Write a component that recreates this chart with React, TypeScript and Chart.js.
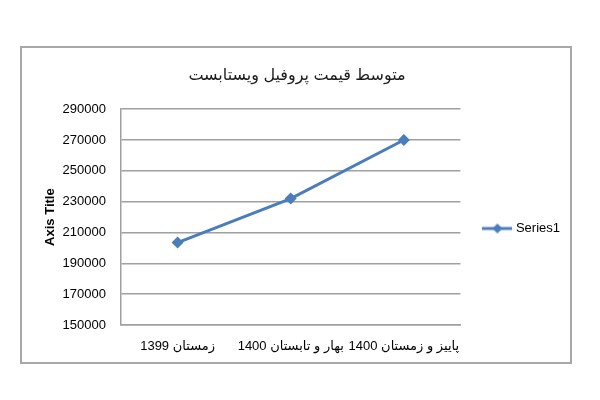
import React, { useEffect, useRef } from 'react';
import { Chart, registerables } from 'chart.js';

Chart.register(...registerables);

const CHART_TITLE = 'متوسط قیمت پروفیل ویستابست';
const CATEGORIES = ['زمستان 1399', 'بهار و تابستان 1400', 'پاییز و زمستان 1400'];
const SERIES1_VALUES = [203500, 232000, 270000];
const SERIES1_NAME = 'Series1';
const Y_AXIS_TITLE = 'Axis Title';
const Y_MIN = 150000;
const Y_MAX = 290000;
const Y_STEP = 20000;

const BLUE = '#4a7ebb';
const GRID = '#a0a0a0';
const FONT = '"Liberation Sans", "DejaVu Sans", sans-serif';

function makeLegendIcon(): HTMLCanvasElement {
  const c = document.createElement('canvas');
  c.width = 30;
  c.height = 12;
  const ctx = c.getContext('2d');
  if (ctx) {
    ctx.strokeStyle = BLUE;
    ctx.lineWidth = 3;
    ctx.beginPath();
    ctx.moveTo(0, 6);
    ctx.lineTo(30, 6);
    ctx.stroke();
    ctx.fillStyle = BLUE;
    ctx.beginPath();
    ctx.moveTo(10, 6);
    ctx.lineTo(15, 1);
    ctx.lineTo(20, 6);
    ctx.lineTo(15, 11);
    ctx.closePath();
    ctx.fill();
  }
  return c;
}

export default function App() {
  const canvasRef = useRef<HTMLCanvasElement | null>(null);

  useEffect(() => {
    const canvas = canvasRef.current;
    if (!canvas) return;
    const icon = makeLegendIcon();
    const chart = new Chart(canvas, {
      type: 'line',
      data: {
        labels: CATEGORIES,
        datasets: [
          {
            label: SERIES1_NAME,
            data: SERIES1_VALUES,
            borderColor: BLUE,
            backgroundColor: BLUE,
            borderWidth: 3,
            pointStyle: 'rectRot',
            pointRadius: 6,
            pointBackgroundColor: BLUE,
            pointBorderColor: BLUE,
            pointBorderWidth: 0,
            tension: 0,
          },
        ],
      },
      options: {
        animation: false,
        responsive: false,
        maintainAspectRatio: false,
        layout: { padding: { top: 66, left: 24, right: 30, bottom: 9 } },
        plugins: {
          title: {
            display: true,
            text: CHART_TITLE,
            color: '#1a1a1a',
            font: { family: FONT, size: 16, weight: 'normal' },
            padding: { top: 0, bottom: 24 },
          },
          legend: {
            display: true,
            position: 'right',
            labels: {
              usePointStyle: true,
              pointStyle: icon as any,
              pointStyleWidth: 24,
              padding: 25,
              color: '#000',
              font: { family: FONT, size: 13 },
            },
          },
          tooltip: { enabled: false },
        },
        scales: {
          x: {
            offset: true,
            grid: { display: false, drawTicks: false },
            border: { display: true, color: GRID, width: 1.5 },
            ticks: {
              color: '#000',
              font: { family: FONT, size: 13 },
              padding: 14,
              maxRotation: 0,
              autoSkip: false,
            },
            afterFit: (s: any) => {
              s.height = 66;
            },
          },
          y: {
            min: Y_MIN,
            max: Y_MAX,
            grid: { color: GRID, lineWidth: 1.5, drawTicks: false },
            border: { display: true, color: GRID, width: 1.5 },
            ticks: {
              stepSize: Y_STEP,
              color: '#000',
              font: { family: FONT, size: 13 },
              padding: 15,
              callback: (v: any) => String(v),
            },
            title: {
              display: true,
              text: Y_AXIS_TITLE,
              color: '#000',
              font: { family: FONT, size: 13, weight: 'bold' },
              padding: { top: 19, bottom: 0 },
            },
            afterFit: (s: any) => {
              s.width = 97;
            },
          },
        },
      },
    });
    return () => chart.destroy();
  }, []);

  return (
    <div style={{ position: 'absolute', left: 0, top: 0, width: 600, height: 400, background: '#fff' }}>
      <canvas
        ref={canvasRef}
        width={600}
        height={400}
        style={{ position: 'absolute', left: 0, top: 0, width: 600, height: 400, direction: 'rtl' }}
      />
      <div
        style={{
          position: 'absolute',
          left: 20,
          top: 46,
          width: 552,
          height: 318,
          border: '2px solid #a8a8a8',
          boxSizing: 'border-box',
          pointerEvents: 'none',
        }}
      />
    </div>
  );
}
